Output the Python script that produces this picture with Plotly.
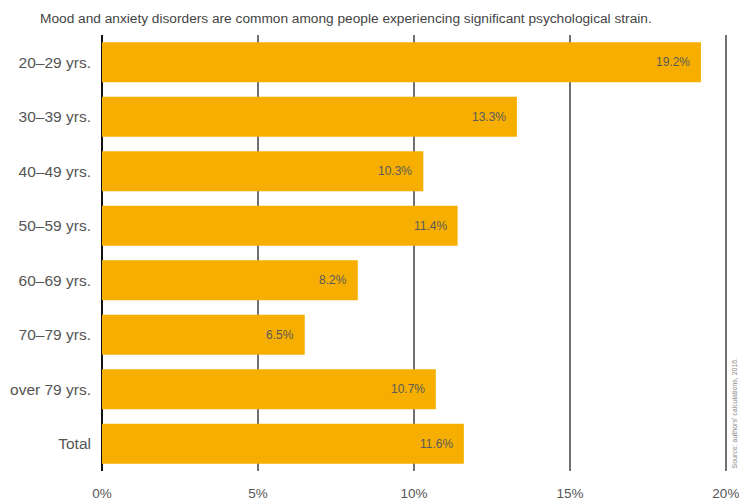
import plotly.graph_objects as go

categories = ["20–29 yrs.", "30–39 yrs.", "40–49 yrs.", "50–59 yrs.",
              "60–69 yrs.", "70–79 yrs.", "over 79 yrs.", "Total"]
values = [19.2, 13.3, 10.3, 11.4, 8.2, 6.5, 10.7, 11.6]
tick_vals = [0, 5, 10, 15, 20]
tick_text = ["0%", "5%", "10%", "15%", "20%"]
subtitle = "Mood and anxiety disorders are common among people experiencing significant psychological strain."
source = "Source: authors' calculations, 2016."

FONT = "Liberation Sans, Arial, sans-serif"
BAR = "#F6AF00"

XMAX = 20.1
L, R, T, B = 102, 10, 35, 31
PW = 739 - L - R
PH = 502 - T - B

fig = go.Figure()
fig.add_trace(go.Bar(
    x=values, y=categories, orientation="h",
    marker=dict(color=BAR, line=dict(width=0)),
    hoverinfo="skip",
))

for c, v in zip(categories, values):
    fig.add_annotation(x=v, y=c, xref="x", yref="y", text=f"{v:.1f}%",
                       showarrow=False, xanchor="right", xshift=-9,
                       font=dict(family=FONT, size=12, color="#5a5a5a"))

fig.add_annotation(text=subtitle, xref="paper", yref="paper",
                   x=(38 - L) / PW, y=1 + (T - 18) / PH,
                   xanchor="left", yanchor="middle", showarrow=False,
                   font=dict(family=FONT, size=13.7, color="#444444"))
fig.add_annotation(text=source, xref="paper", yref="paper",
                   x=1 + (734 - (739 - R)) / PW, y=0.0, textangle=-90,
                   xanchor="center", yanchor="bottom", showarrow=False,
                   font=dict(family=FONT, size=7, color="#888888"))

fig.update_layout(
    width=739, height=502,
    margin=dict(l=L, r=R, t=T, b=B, autoexpand=False),
    paper_bgcolor="white", plot_bgcolor="white",
    showlegend=False, bargap=0.27,
    font=dict(family=FONT, color="#555555"),
    xaxis=dict(range=[0, XMAX], tickvals=tick_vals, ticktext=tick_text,
               showgrid=True, gridcolor="#707070", gridwidth=2,
               zeroline=True, zerolinecolor="#111111", zerolinewidth=2,
               ticks="", ticklabelstandoff=12, automargin=False,
               ticklabeloverflow="allow",
               tickfont=dict(family=FONT, size=13.5, color="#555555")),
    yaxis=dict(autorange="reversed", showgrid=False, ticks="",
               ticklabelstandoff=10, automargin=False,
               tickfont=dict(family=FONT, size=15.5, color="#555555")),
)

fig.write_html("out.html")
